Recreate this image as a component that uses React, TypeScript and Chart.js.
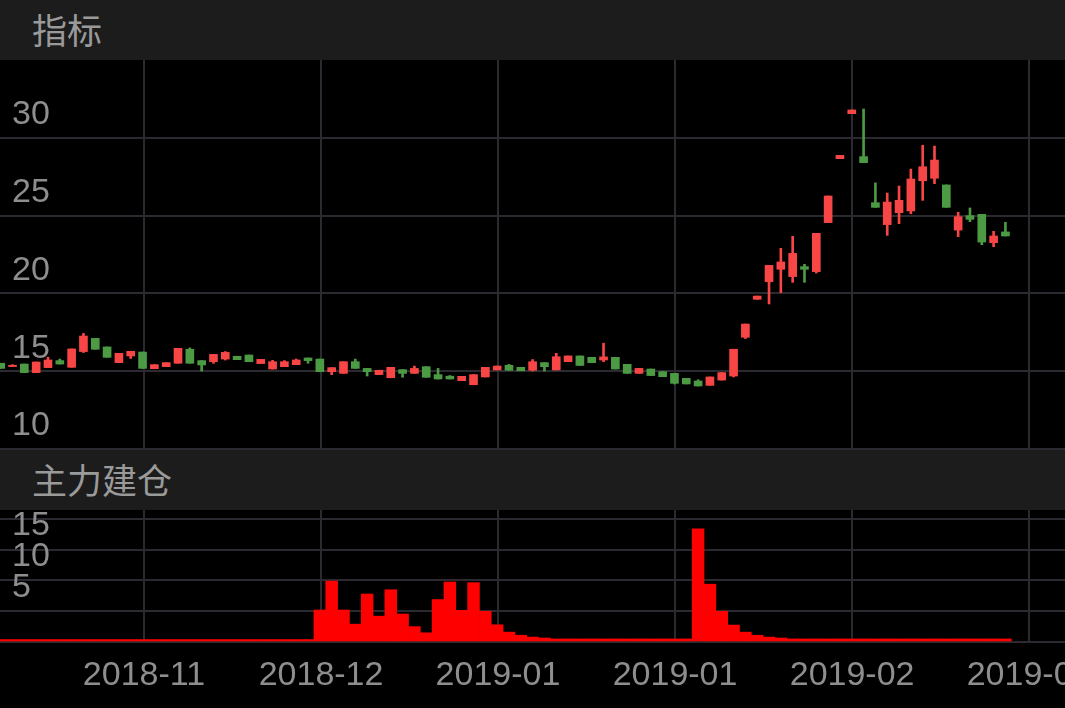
import React, { useEffect, useRef } from 'react';
import { Chart, registerables } from 'chart.js';

Chart.register(...registerables);

// ---- data ----
const opens = [
  15.51, 15.30, 15.46, 14.91, 15.23, 15.68, 15.25, 16.26, 17.11, 16.56,
  15.55, 15.98, 16.23, 15.16, 15.29, 15.51, 16.41, 15.68, 15.61, 15.78,
  15.96, 16.04, 15.49, 15.14, 15.29, 15.42, 15.85, 15.78, 14.97, 14.86,
  15.61, 15.18, 14.78, 14.58, 15.10, 14.86, 15.29, 14.78, 14.68, 14.39,
  14.13, 14.63, 15.08, 15.38, 15.25, 15.06, 15.55, 15.08, 15.61, 15.98,
  15.89, 15.72, 15.89, 15.44, 14.86, 15.14, 14.97, 14.86, 14.54, 14.37,
  14.09, 14.43, 14.69, 17.18, 19.62, 20.75, 21.55, 21.08, 21.72, 21.40,
  24.55, 28.66, 31.55, 28.79, 25.83, 24.42, 25.19, 25.30, 27.24, 27.40,
  26.97, 24.07, 25.00, 25.08, 23.26, 23.95,
];
const closes = [
  15.18, 15.38, 14.91, 15.59, 15.72, 15.46, 16.43, 17.26, 16.41, 15.89,
  16.15, 16.28, 15.18, 15.42, 15.55, 16.47, 15.51, 15.40, 16.08, 16.21,
  15.74, 15.61, 15.76, 15.61, 15.61, 15.72, 15.68, 14.97, 15.23, 15.61,
  15.18, 14.97, 15.06, 15.25, 14.86, 15.18, 14.61, 14.50, 14.50, 14.67,
  14.78, 15.25, 15.33, 15.06, 15.03, 15.61, 15.29, 15.93, 15.98, 15.37,
  15.55, 15.92, 15.14, 14.86, 15.18, 14.72, 14.65, 14.22, 14.18, 14.05,
  14.63, 14.91, 16.41, 18.03, 19.83, 21.80, 22.02, 22.57, 21.55, 23.86,
  26.26, 28.87, 31.79, 28.40, 25.53, 25.87, 25.98, 27.35, 28.14, 28.57,
  25.53, 24.93, 24.76, 23.30, 23.69, 23.69,
];
const highs = [
  15.51, 15.42, 15.46, 15.59, 15.90, 15.78, 16.43, 17.43, 17.11, 16.56,
  16.15, 16.28, 16.23, 15.42, 15.55, 16.47, 16.50, 15.68, 16.08, 16.26,
  15.96, 16.04, 15.76, 15.70, 15.68, 15.78, 15.85, 15.78, 15.23, 15.61,
  15.78, 15.18, 15.06, 15.25, 15.10, 15.33, 15.29, 15.18, 14.72, 14.67,
  14.78, 15.25, 15.33, 15.44, 15.25, 15.75, 15.55, 16.15, 15.98, 15.98,
  15.89, 16.80, 15.89, 15.44, 15.18, 15.14, 14.97, 14.86, 14.54, 14.45,
  14.63, 14.91, 16.41, 18.03, 19.83, 21.80, 22.90, 23.67, 21.87, 23.86,
  26.26, 28.87, 31.79, 31.85, 27.10, 26.45, 26.90, 27.99, 29.52, 29.47,
  26.97, 25.21, 25.49, 25.08, 23.99, 24.57,
];
const lows = [
  15.18, 15.30, 14.91, 14.91, 15.23, 15.46, 15.25, 16.20, 16.41, 15.89,
  15.55, 15.82, 15.18, 15.16, 15.29, 15.51, 15.51, 15.01, 15.51, 15.72,
  15.74, 15.61, 15.49, 15.14, 15.29, 15.42, 15.51, 14.97, 14.78, 14.86,
  15.18, 14.69, 14.78, 14.58, 14.61, 14.86, 14.61, 14.50, 14.50, 14.39,
  14.13, 14.63, 15.08, 15.06, 15.03, 15.01, 15.01, 15.08, 15.61, 15.37,
  15.55, 15.61, 15.14, 14.86, 14.86, 14.72, 14.65, 14.18, 14.18, 14.05,
  14.09, 14.43, 14.63, 17.10, 19.62, 19.32, 20.05, 20.71, 20.71, 21.31,
  24.55, 28.66, 31.55, 28.40, 25.53, 23.73, 24.48, 25.12, 25.98, 27.05,
  25.53, 23.65, 24.61, 23.13, 23.00, 23.69,
];
const buildUp = [
  0.4, 0.4, 0.4, 0.4, 0.4, 0.4, 0.4, 0.4, 0.4, 0.4,
  0.4, 0.4, 0.4, 0.4, 0.4, 0.4, 0.4, 0.4, 0.4, 0.4,
  0.4, 0.4, 0.4, 0.4, 0.4, 0.4, 0.4, 5.2, 9.9, 5.2,
  2.9, 7.8, 4.2, 8.5, 4.55, 2.5, 1.5, 6.9, 9.75, 5.15,
  9.65, 5.0, 2.8, 1.6, 1.1, 0.8, 0.65, 0.5, 0.5, 0.5,
  0.5, 0.5, 0.5, 0.5, 0.5, 0.5, 0.5, 0.5, 0.5, 18.4,
  9.4, 5.0, 2.75, 1.6, 1.1, 0.8, 0.65, 0.5, 0.5, 0.5,
  0.5, 0.5, 0.5, 0.5, 0.5, 0.5, 0.5, 0.5, 0.5, 0.5,
  0.5, 0.5, 0.5, 0.5, 0.5, 0.5,
];
const xTickValues = [12.12, 27.1, 42.07, 57.05, 72.03, 87.0];
const xTickLabels = ['2018-11', '2018-12', '2019-01', '2019-01', '2019-02', '2019-03'];
const priceTicks = [10, 15, 20, 25, 30];
const buildTicks = [0, 5, 10, 15, 20];

// ---- styles ----
const X_MIN = -0.06;
const X_MAX = 90.04;
const UP = '#f84545';
const DOWN = '#4c9a44';
const BAR = '#ff0000';
const GRID = '#2b2a31';
const TICK_COLOR = '#8e8e8e';
const LATIN = '"Liberation Sans", Arial, Helvetica, sans-serif';
const CJK = '"Noto Sans CJK SC", "Noto Sans", sans-serif';

function xScale(showLabels: boolean, axisHeight: number) {
  return {
    type: 'linear' as const,
    min: X_MIN,
    max: X_MAX,
    offset: false,
    grid: { color: GRID, lineWidth: 2, drawTicks: false, offset: false },
    border: { display: false },
    ticks: {
      display: showLabels,
      autoSkip: false,
      maxRotation: 0,
      minRotation: 0,
      padding: 13,
      color: TICK_COLOR,
      font: { size: 34, family: LATIN },
      callback: (_v: any, i: number) => xTickLabels[i],
    },
    afterBuildTicks: (s: any) => {
      s.ticks = xTickValues.map((v) => ({ value: v }));
    },
    afterFit: (s: any) => {
      s.height = axisHeight;
      s.paddingLeft = 0;
      s.paddingRight = 0;
      s.paddingTop = 0;
      s.paddingBottom = 0;
    },
  };
}

function yScale(min: number, max: number, ticks: number[], hide: number[], offset: number) {
  return {
    type: 'linear' as const,
    min,
    max,
    grid: { color: GRID, lineWidth: 2, drawTicks: false },
    border: { display: false },
    ticks: {
      mirror: true,
      autoSkip: false,
      padding: 12,
      labelOffset: offset,
      color: TICK_COLOR,
      font: { size: 34, family: LATIN },
      callback: (v: any) => (hide.includes(Number(v)) ? '' : String(v)),
    },
    afterBuildTicks: (s: any) => {
      s.ticks = ticks.map((v) => ({ value: v }));
    },
    afterFit: (s: any) => {
      s.width = 0;
      s.paddingTop = 0;
      s.paddingBottom = 0;
      s.paddingLeft = 0;
      s.paddingRight = 0;
    },
  };
}

export default function App() {
  const topRef = useRef<HTMLCanvasElement>(null);
  const botRef = useRef<HTMLCanvasElement>(null);

  useEffect(() => {
    const idx = opens.map((_, i) => i);
    const colors = idx.map((i) => (closes[i] >= opens[i] ? UP : DOWN));

    const top = new Chart(topRef.current as HTMLCanvasElement, {
      type: 'bar',
      data: {
        datasets: [
          {
            label: 'body',
            data: idx.map((i) => ({ x: i, y: [opens[i], closes[i]] })) as any,
            backgroundColor: colors,
            barThickness: 8,
            grouped: false,
          },
          {
            label: 'wick',
            data: idx.map((i) => ({ x: i, y: [lows[i], highs[i]] })) as any,
            backgroundColor: colors,
            barThickness: 2,
            grouped: false,
          },
        ],
      },
      options: {
        responsive: false,
        animation: false,
        layout: { padding: { top: 0, left: 0, right: 0, bottom: 1 } },
        plugins: { legend: { display: false }, tooltip: { enabled: false } },
        scales: {
          x: xScale(false, 0) as any,
          y: yScale(10, 35, priceTicks, [], -23) as any,
        },
      },
    });

    const bot = new Chart(botRef.current as HTMLCanvasElement, {
      type: 'bar',
      data: {
        datasets: [
          {
            label: '主力建仓',
            data: idx.map((i) => ({ x: i, y: buildUp[i] })) as any,
            backgroundColor: BAR,
            barPercentage: 1,
            categoryPercentage: 1,
            grouped: false,
          },
        ],
      },
      options: {
        responsive: false,
        animation: false,
        layout: { padding: 0 },
        plugins: { legend: { display: false }, tooltip: { enabled: false } },
        scales: {
          x: xScale(true, 66) as any,
          y: yScale(0, 21.46, buildTicks, [0, 20], -24) as any,
        },
      },
    });

    return () => {
      top.destroy();
      bot.destroy();
    };
  }, []);

  const header = (topPx: number, h: number, text: string) => (
    <div
      style={{
        position: 'absolute',
        left: 0,
        top: topPx,
        width: 1065,
        height: h,
        background: '#1c1c1c',
        display: 'flex',
        alignItems: 'center',
      }}
    >
      <span
        style={{
          marginLeft: 32,
          marginTop: -4,
          color: '#9a9a9a',
          fontSize: 35,
          fontFamily: CJK,
          lineHeight: 1,
        }}
      >
        {text}
      </span>
    </div>
  );

  return (
    <div
      style={{
        position: 'fixed',
        left: 0,
        top: 0,
        width: 1065,
        height: 708,
        background: '#000',
        overflow: 'hidden',
      }}
    >
      {header(0, 60, '指标')}
      <canvas
        ref={topRef}
        width={1065}
        height={390}
        style={{ position: 'absolute', left: 0, top: 60, display: 'block' }}
      />
      {header(450, 60, '主力建仓')}
      <canvas
        ref={botRef}
        width={1065}
        height={198}
        style={{ position: 'absolute', left: 0, top: 510, display: 'block' }}
      />
    </div>
  );
}
